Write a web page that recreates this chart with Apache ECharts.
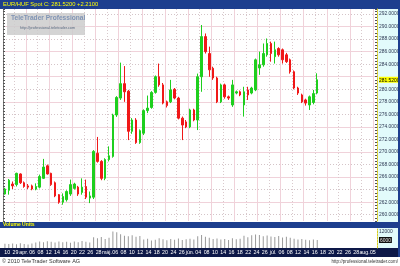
<!DOCTYPE html>
<html><head><meta charset="utf-8">
<script src="https://cdn.jsdelivr.net/npm/echarts@6/dist/echarts.min.js"></script>
<style>html,body{margin:0;padding:0;background:#fff}#c{width:400px;height:266px}</style>
</head><body><div id="c"></div>
<script>
const instrument = 'EUR/HUF Spot';
const opens = [263.3,263.9,264.9,264.8,266.5,265.1,264.6,264.6,264.1,264.4,265.8,267.8,266.6,265.1,263.2,262.0,262.4,263.3,264.2,264.4,263.55,264.5,262.65,262.8,
269.8,268.5,265.8,268.8,269.3,275.9,278.6,280.9,279.7,273.3,275.1,271.5,273.0,276.6,277.1,279.5,282.0,280.7,278.0,278.0,280.0,278.6,275.4,274.8,274.0,276.7,275.1,282.0,288.4,285.7,283.35,281.8,278.0,280.7,278.8,277.5,279.4,279.6,277.5,279.9,279.4,279.9,283.4,283.9,285.5,287.3,285.2,286.5,286.3,285.5,284.7,282.8,280.2,279.1,278.3,277.5,277.9,279.4];
const closes = [264.1,265.5,264.6,266.6,265.1,264.5,264.4,264.1,264.5,266.1,267.6,266.5,264.8,263.0,262.0,262.9,263.7,264.8,264.9,263.3,264.4,262.8,263.0,270.1,
268.5,265.8,268.8,269.4,275.9,278.7,280.9,279.6,273.3,275.1,271.5,273.4,276.6,277.0,279.5,282.0,280.7,277.8,277.4,279.9,278.6,275.4,274.3,274.0,276.7,275.1,282.0,288.4,286.0,283.1,281.8,278.0,280.7,278.8,278.6,280.7,279.6,279.1,279.6,279.1,280.2,284.7,283.9,285.7,287.3,285.7,286.3,285.5,284.7,284.4,282.8,280.2,279.4,278.0,277.8,278.8,279.31,281.52];
const lows = [263.2,263.2,264.1,264.5,264.9,264.3,264.1,263.9,263.9,264.2,265.7,266.4,264.6,262.8,261.75,261.6,262.1,263.0,264.0,263.0,263.2,262.5,261.85,262.5,
268.3,265.5,265.5,268.5,269.1,275.6,278.3,278.0,271.9,272.9,271.3,271.3,272.7,276.2,276.9,279.3,280.4,277.6,277.1,277.8,278.4,275.2,271.9,273.8,273.8,274.9,273.5,279.6,285.7,282.0,281.5,277.8,277.8,278.5,278.3,277.2,279.2,278.9,275.65,278.3,279.2,279.7,282.3,283.6,285.2,284.4,284.1,285.2,284.1,284.2,282.5,280.0,279.1,277.8,277.4,276.7,277.6,279.2];
const highs = [264.3,265.7,265.3,266.7,266.6,265.3,264.9,264.8,265.0,266.4,268.9,268.0,266.7,265.3,263.3,263.4,263.9,265.6,265.1,264.6,265.8,265.6,263.7,270.3,
272.4,268.7,269.0,270.9,276.1,278.9,284.25,283.7,279.9,275.4,275.4,273.6,276.8,279.0,279.7,282.2,284.1,281.0,278.2,281.5,280.2,278.8,275.65,275.1,276.9,276.9,282.5,290.25,288.9,286.8,283.6,282.0,280.9,280.9,279.0,281.5,279.8,279.8,280.4,280.4,280.4,284.9,286.0,287.3,288.1,287.6,287.6,286.7,286.5,285.8,284.9,283.0,280.4,279.3,278.5,279.0,279.9,282.55];
const volumes = [3200,3000,3400,2800,3600,3000,2600,3400,
4200,4800,4400,5000,4600,4200,4800,4400,4600,4000,4800,4400,5200,4600,4200,
8000,7400,8200,6800,7600,12400,11800,
10400,9200,8800,9600,8400,9000,
6400,7000,5600,6200,7400,6600,5800,6800,6200,7200,6000,6600,7000,6400,8800,9800,
8400,7600,6800,7200,6400,6800,6000,7400,6600,7000,9200,8000,9600,10200,9800,8800,9400,8600,8200,9000,7800,8400,7600,7000,6400,6800,6200,5800,6400,6000];
const dateLabels = ['10','29','apr.','06','08','12','14','16','20','22','26','28','máj.','06','08','10','12','14','18','20','24','26','jún.','04','08','10','14','16','18','22','24','26','júl.','06','08','12','14','16','18','20','22','26','28','aug.','05'];
const priceLabels = [260,262,264,266,268,270,272,274,276,278,280,284,286,288,290,292];
const dottedGrid = [260,264,268,272,276,280,284,288,292];
const solidGrid = [262,266,270,274,278,282,286,290];
const volumeLabels = [6000,12000];
const slotCount = 97;

const lastClose = closes[closes.length-1];
const change = lastClose - closes[closes.length-2];
const cats = Array.from({length: slotCount}, (_, i) => String(i));
const candleData = opens.map((o, i) => [o, closes[i], lows[i], highs[i]]);
const F = "'Liberation Sans',Arial,sans-serif";
const yMin = 259, yMax = 292.8;

const chart = echarts.init(document.getElementById('c'), null, {renderer: 'canvas'});
chart.setOption({
  animation: false,
  backgroundColor: '#ffffff',
  grid: [
    {left: 3, top: 9, width: 374, height: 212, outerBoundsMode: 'none', containLabel: false},
    {left: 3, top: 229, width: 374, height: 19, outerBoundsMode: 'none', containLabel: false}
  ],
  xAxis: [
    {type: 'category', gridIndex: 0, data: cats, boundaryGap: true,
     axisLine: {show: false}, axisTick: {show: false}, axisLabel: {show: false},
     splitLine: {show: true, interval: (i) => i % 6 === 0, lineStyle: {color: '#f0d2da', width: 1}}},
    {type: 'category', gridIndex: 0, data: cats, boundaryGap: true,
     axisLine: {show: false}, axisTick: {show: false}, axisLabel: {show: false},
     splitLine: {show: true, interval: (i) => i % 6 === 3, lineStyle: {color: '#d9c9cc', width: 1, type: [1, 2]}}},
    {type: 'category', gridIndex: 1, data: cats, boundaryGap: true,
     axisLine: {show: false}, axisTick: {show: false}, axisLabel: {show: false}, splitLine: {show: false}},
    {type: 'category', gridIndex: 1, data: dateLabels, boundaryGap: true, position: 'bottom',
     axisLine: {show: false}, axisTick: {show: false}, splitLine: {show: false},
     axisLabel: {show: true, interval: 0, color: '#ffffff', fontSize: 5.3, fontFamily: F, margin: 2.5}}
  ],
  yAxis: [
    {type: 'value', gridIndex: 0, position: 'right', min: yMin, max: yMax,
     axisLine: {show: true, lineStyle: {color: '#d8cc20', type: [2, 1]}},
     axisTick: {show: false, customValues: dottedGrid},
     splitLine: {show: true, lineStyle: {color: '#d4c4c8', type: [1, 2]}},
     axisLabel: {show: true, customValues: priceLabels.concat([lastClose]), margin: 2, color: '#2a3550', fontSize: 4.9, fontFamily: F,
       formatter: (v) => Math.abs(v - lastClose) < 1e-6 ? '{hl|' + v.toFixed(4) + '}' : v.toFixed(4),
       rich: {hl: {backgroundColor: '#ffff00', color: '#000', fontSize: 4.9, fontFamily: F, padding: [1, 0, 0, 0]}}}},
    {type: 'value', gridIndex: 0, position: 'right', min: yMin, max: yMax,
     axisLine: {show: false}, axisLabel: {show: false},
     axisTick: {show: false, customValues: solidGrid},
     splitLine: {show: true, lineStyle: {color: '#f0d2da', width: 1}}},
    {type: 'value', gridIndex: 0, position: 'right', min: yMin, max: yMax, interval: 0.5,
     axisLine: {show: false}, axisLabel: {show: false}, splitLine: {show: false},
     axisTick: {show: true, inside: true, length: 2, lineStyle: {color: '#555'}}},
    {type: 'value', gridIndex: 0, position: 'left', min: yMin, max: yMax, interval: 0.5,
     axisLine: {show: true, lineStyle: {color: '#777'}}, axisLabel: {show: false}, splitLine: {show: false},
     axisTick: {show: true, inside: true, length: 2, lineStyle: {color: '#555'}}},
    {type: 'value', gridIndex: 1, position: 'right', min: 0, max: 14250,
     axisLine: {show: true, lineStyle: {color: '#d8cc20', type: [2, 1]}},
     axisTick: {show: false}, splitLine: {show: false},
     axisLabel: {show: true, customValues: volumeLabels, margin: 2, color: '#2a3550', fontSize: 4.9, fontFamily: F,
       formatter: (v) => v === volumes[volumes.length-1] ? '{hl|' + v + '}' : String(v),
       rich: {hl: {backgroundColor: '#111', color: '#e8e8e8', fontSize: 4.9, fontFamily: F, padding: [1, 1, 0, 1]}}}}
  ],
  series: [
    {type: 'candlestick', xAxisIndex: 0, yAxisIndex: 0, data: candleData, barWidth: 2,
     itemStyle: {color: '#1ecf1e', color0: '#f01818', borderColor: '#1ecf1e', borderColor0: '#f01818', borderWidth: 1}},
    {type: 'bar', xAxisIndex: 2, yAxisIndex: 4, data: volumes, barWidth: 1,
     itemStyle: {color: '#9a9a9a'}}
  ],
  graphic: [
    {type: 'rect', z: -10, shape: {x: 0, y: 0, width: 400, height: 9}, style: {fill: '#1d3e8e'}},
    {type: 'rect', z: -10, shape: {x: 0, y: 222, width: 400, height: 6}, style: {fill: '#1d3e8e'}},
    {type: 'rect', z: -10, shape: {x: 0, y: 248, width: 400, height: 9}, style: {fill: '#0d1848'}},
    {type: 'rect', z: -10, shape: {x: 378, y: 9, width: 20, height: 213}, style: {fill: '#e2fbfb'}},
    {type: 'rect', z: -10, shape: {x: 378, y: 228, width: 20, height: 20}, style: {fill: '#e2fbfb'}},
    {type: 'rect', z: 5, shape: {x: 398, y: 0, width: 2, height: 257}, style: {fill: '#1d3e8e'}},
    {type: 'text', z: 10, x: 3, y: 1.5, style: {text: instrument + ' C: ' + lastClose.toFixed(4) + ' +' + change.toFixed(4), fill: '#ffff00', font: '5.8px ' + F}},
    {type: 'text', z: 10, x: 3, y: 222.5, style: {text: 'Volume Units', fill: '#ffff00', font: 'bold 5px ' + F}},
    {type: 'rect', z: 8, shape: {x: 7, y: 13, width: 78, height: 22}, style: {fill: 'rgba(205,205,205,0.85)'}},
    {type: 'text', z: 10, x: 11, y: 15, style: {text: 'TeleTrader Professional', fill: '#8094b4', font: 'bold 6.6px ' + F}},
    {type: 'text', z: 10, x: 20, y: 26, style: {text: 'http://professional.teletrader.com', fill: '#5a6a80', font: '3.8px ' + F}},
    {type: 'text', z: 10, x: 2, y: 258.5, style: {text: '© 2010 TeleTrader Software AG', fill: '#333', font: '5.5px ' + F}},
    {type: 'text', z: 10, x: 398, y: 259.5, style: {text: 'http://professional.teletrader.com/', fill: '#333', font: '4.5px ' + F, align: 'right'}}
  ]
});
</script></body></html>
